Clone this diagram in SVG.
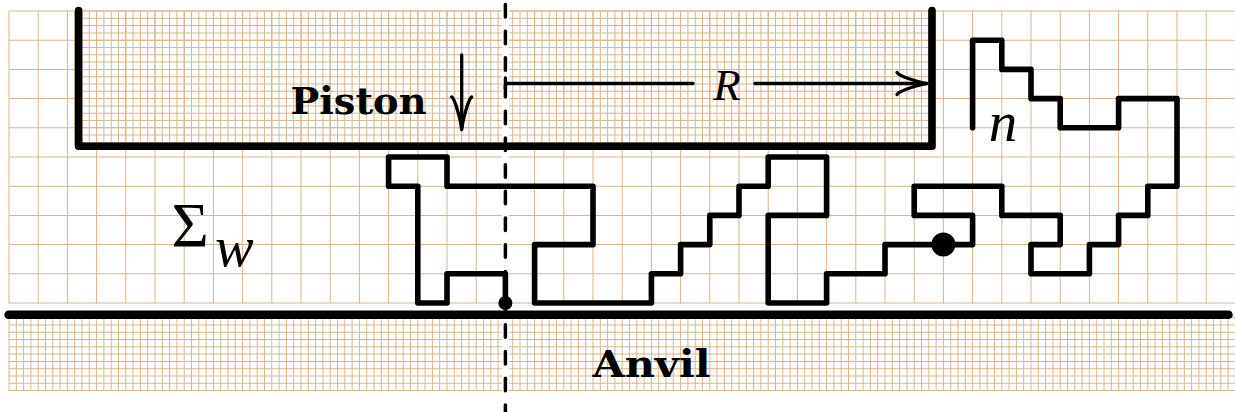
<svg xmlns="http://www.w3.org/2000/svg" width="1235" height="412" viewBox="0 0 1235 412">
<style>
.grid{fill:none;stroke:#d6b790}
.coarse{stroke-dasharray:1 28.2}
.fine{stroke-dasharray:1 6.3}
.wall{fill:none;stroke:#000;stroke-linecap:round;stroke-linejoin:round}
.walk{fill:none;stroke:#000;stroke-width:5.6;stroke-linecap:round;stroke-linejoin:round}
.arr{fill:none;stroke:#000;stroke-width:3.3;stroke-linecap:round;stroke-linejoin:round}
</style>
<rect width="1235" height="412" fill="#fff"/>
<g id="grid">
  <path class="grid coarse" stroke-width="292.4" d="M8.5 157.2H1236"/>
  <path class="grid coarse" stroke-width="1226" d="M622 10.5V304"/>
  <path class="grid fine" stroke-width="135" d="M74.2 78.5H932"/>
  <path class="grid fine" stroke-width="853" d="M505 10.5V146"/>
  <path class="grid fine" stroke-width="77" d="M8.5 352.5H1236"/>
  <path class="grid fine" stroke-width="1226" d="M622 317.1V392"/>
</g>
<g id="axis">
  <path d="M505.4 0V412" stroke="#fff" stroke-width="7"/>
  <path d="M505.4 0V412" stroke="#000" stroke-width="3.5" stroke-linecap="round" stroke-dasharray="12.5 14.2" stroke-dashoffset="22.25"/>
</g>
<g id="piston">
  <path class="wall" stroke-width="7.6" d="M78.6 10.5V146.3H932V10.5"/>
  <text x="290.5" y="113.5" font-family="DejaVu Serif, serif" font-weight="bold" font-size="38" textLength="136" lengthAdjust="spacingAndGlyphs">Piston</text>
  <path class="arr" d="M461.7 55V128"/>
  <path class="arr" d="M451.7 97C455.45 99.1 461.1 122.6 461.7 129.5C462.3 122.6 467.95 99.1 471.7 97"/>
</g>
<g id="anvil">
  <path class="wall" stroke-width="8.5" d="M8.6 314.7H1228.5"/>
  <text x="592.5" y="376.7" font-family="DejaVu Serif, serif" font-weight="bold" font-size="38" textLength="118" lengthAdjust="spacingAndGlyphs">Anvil</text>
</g>
<g id="radius">
  <path class="arr" d="M505.4 78V89M505.4 83.5H693M755 83.5H926"/>
  <path class="arr" d="M897 72.5C899 76.6 921 82.8 927 83.5C921 84.2 899 90.4 897 94.5"/>
  <text x="727" y="100" text-anchor="middle" style="font-family:'Liberation Serif',serif;font-style:italic;font-size:45px">R</text>
</g>
<g id="polymer">
  <path class="walk" d="M505.4 303V273.8H447V303H417.8V186.2H388.6V157H447V186.2H593V244.6H534.6V303H651.4V273.8H680.6V244.6H709.8V215.4H739V186.2H768.2V157H826.6V215.4H768.2V303H826.6V273.8H885V244.6H943.4H972.6V215.4H914.2V186.2H1001.8V215.4H1060.2V244.6H1031V273.8H1089.4V244.6H1118.6V215.4H1147.8V186.2H1177V98.6H1118.6V127.8H1060.2V98.6H1031V69.4H1001.8V40.2H972.6V127.8"/>
  <circle cx="505.4" cy="303" r="7"/>
  <circle cx="943.4" cy="244.6" r="12"/>
  <text x="1003" y="140.7" text-anchor="middle" style="font-family:'Liberation Serif',serif;font-style:italic;font-size:57px">n</text>
</g>
<g id="sigma">
  <text x="171.5" y="246.7" style="font-family:'Liberation Serif',serif;font-size:64px">Σ</text>
  <text x="215" y="266" style="font-family:'Liberation Serif',serif;font-style:italic;font-size:58px">w</text>
</g>
</svg>
